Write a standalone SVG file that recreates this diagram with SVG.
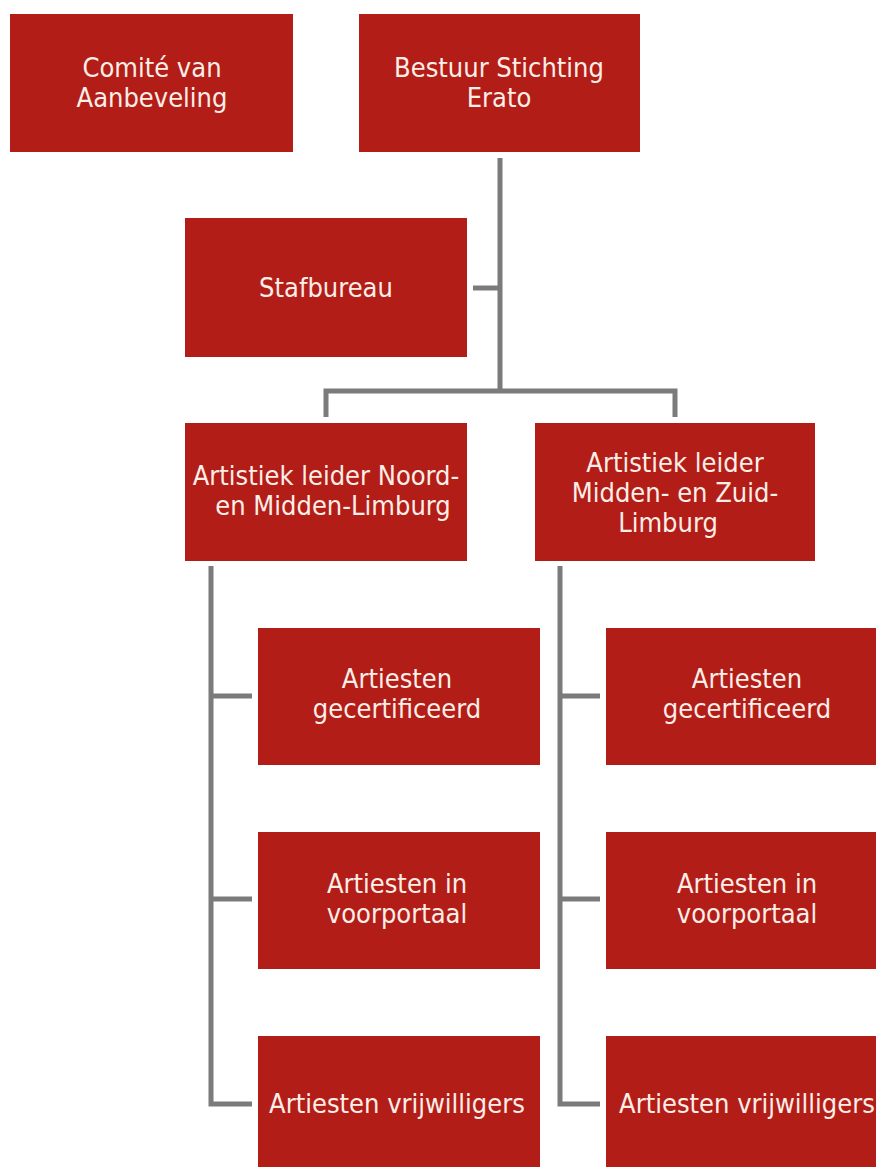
<svg xmlns="http://www.w3.org/2000/svg" width="876" height="1167" viewBox="0 0 876 1167">
<style>
.box{fill:#b21d17}
.t{font-family:"DejaVu Sans Condensed","DejaVu Sans",sans-serif;font-size:27px;fill:#fdeee8;text-anchor:middle}
.c{fill:none;stroke:#7b7b7b;stroke-width:5;stroke-linejoin:miter;stroke-linecap:butt}
</style>
<rect width="876" height="1167" fill="#ffffff"/>
<g id="connectors">
<path class="c" d="M500,158 V391"/>
<path class="c" d="M473,288 H500"/>
<path class="c" d="M326,417 V391 H675 V417"/>
<path class="c" d="M211,566 V1104 H252"/>
<path class="c" d="M211,696 H252 M211,899 H252"/>
<path class="c" d="M560,566 V1104 H600"/>
<path class="c" d="M560,696 H600 M560,899 H600"/>
</g>
<g id="comite">
<rect class="box" x="10" y="14" width="283" height="138"/>
<text class="t" x="152" y="77">Comité van</text>
<text class="t" x="152" y="107">Aanbeveling</text>
</g>
<g id="bestuur">
<rect class="box" x="359" y="14" width="281" height="138"/>
<text class="t" x="499" y="77">Bestuur Stichting</text>
<text class="t" x="499" y="107">Erato</text>
</g>
<g id="stafbureau">
<rect class="box" x="185" y="218" width="282" height="139"/>
<text class="t" x="326" y="297">Stafbureau</text>
</g>
<g id="leider-noord">
<rect class="box" x="185" y="423" width="282" height="138"/>
<text class="t" x="326" y="485">Artistiek leider Noord-</text>
<text class="t" x="333" y="515">en Midden-Limburg</text>
</g>
<g id="leider-zuid">
<rect class="box" x="535" y="423" width="280" height="138"/>
<text class="t" x="675" y="472">Artistiek leider</text>
<text class="t" x="675" y="502">Midden- en Zuid-</text>
<text class="t" x="668" y="532">Limburg</text>
</g>
<g id="noord-gecertificeerd">
<rect class="box" x="258" y="628" width="282" height="137"/>
<text class="t" x="397" y="688">Artiesten</text>
<text class="t" x="397" y="718">gecertificeerd</text>
</g>
<g id="noord-voorportaal">
<rect class="box" x="258" y="832" width="282" height="137"/>
<text class="t" x="397" y="893">Artiesten in</text>
<text class="t" x="397" y="923">voorportaal</text>
</g>
<g id="noord-vrijwilligers">
<rect class="box" x="258" y="1036" width="282" height="140"/>
<text class="t" x="397" y="1113">Artiesten vrijwilligers</text>
</g>
<g id="zuid-gecertificeerd">
<rect class="box" x="606" y="628" width="282" height="137"/>
<text class="t" x="747" y="688">Artiesten</text>
<text class="t" x="747" y="718">gecertificeerd</text>
</g>
<g id="zuid-voorportaal">
<rect class="box" x="606" y="832" width="282" height="137"/>
<text class="t" x="747" y="893">Artiesten in</text>
<text class="t" x="747" y="923">voorportaal</text>
</g>
<g id="zuid-vrijwilligers">
<rect class="box" x="606" y="1036" width="282" height="140"/>
<text class="t" x="747" y="1113">Artiesten vrijwilligers</text>
</g>
</svg>
